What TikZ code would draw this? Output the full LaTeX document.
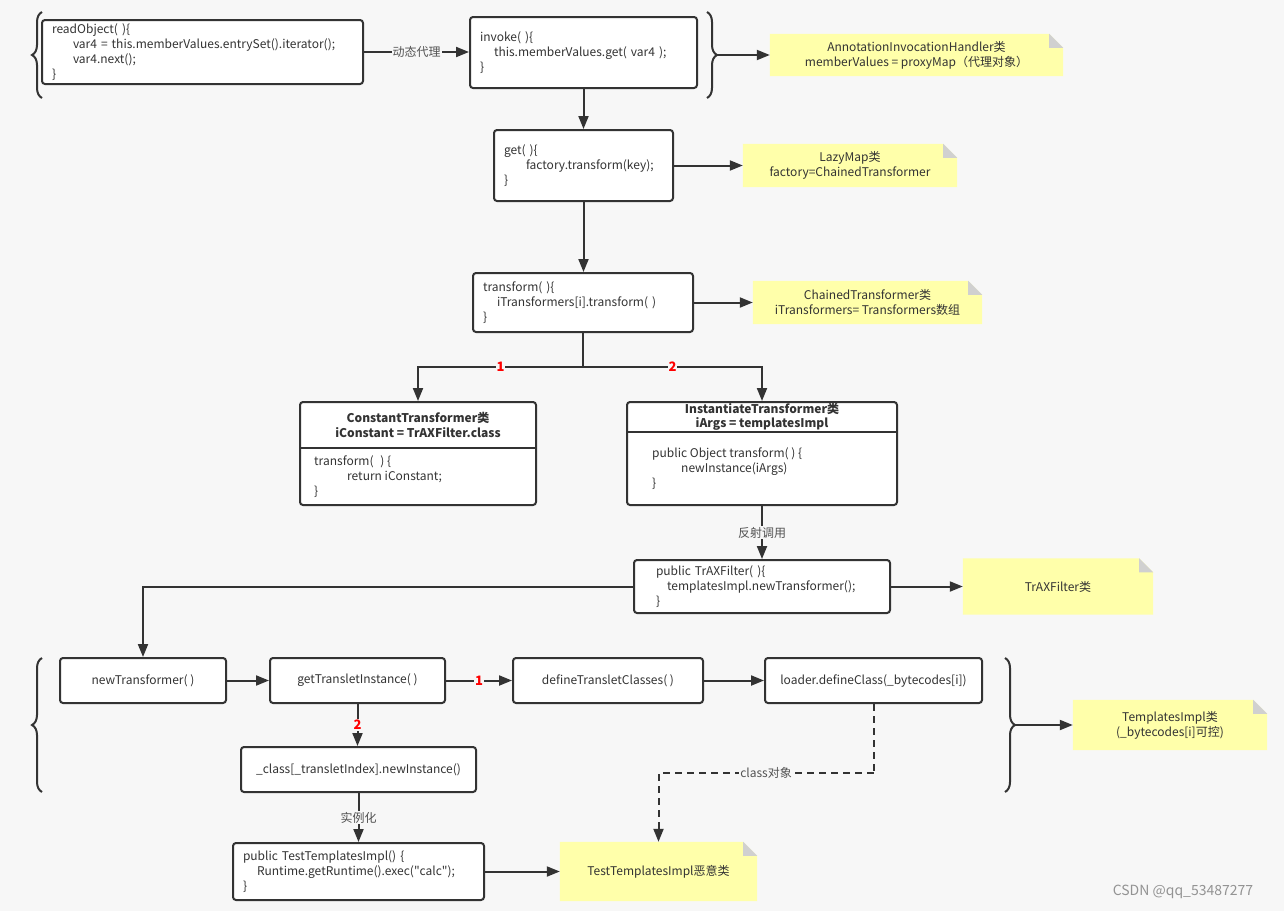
\documentclass[tikz,border=0pt]{standalone}
\usepackage{fontspec}
\setmainfont{Noto Sans CJK SC}
\newfontfamily\codefont{Noto Sans CJK SC}
\usetikzlibrary{arrows.meta,decorations.pathreplacing,backgrounds}
\definecolor{canvas}{HTML}{F7F7F7}
\definecolor{ink}{HTML}{333333}
\definecolor{notefill}{HTML}{FFFFAA}
\definecolor{foldgray}{HTML}{D0D0D0}

\begin{document}
\begin{tikzpicture}[x=1pt,y=-1pt,>={Triangle[length=13pt,width=10pt]},
    font=\fontsize{12}{15}\selectfont, text=ink,
    % Define the style for the boxes holding code
    code box/.style={draw=ink, line width=2pt, rounded corners=3pt, fill=white, align=left, inner xsep=10pt, inner ysep=0pt},
    call box/.style={code box, align=center, minimum height=45pt},
    % Yellow notes, the folded corner is filled on the background layer
    note box/.style={inner sep=0pt, align=center},
    % Define the style for the connecting lines
    connection/.style={->, draw=ink, line width=2pt},
    class link/.style={connection, dash pattern=on 7pt off 5pt},
    edge label/.style={fill=canvas, inner sep=1pt, text=ink!85},
    step label/.style={fill=canvas, inner sep=1pt, text=red, font=\fontsize{13}{13}\selectfont\bfseries},
    curly/.style={draw=ink, line width=2pt, decorate, decoration={brace, amplitude=10pt}}
]
\useasboundingbox (0,0) rectangle (1284,911);

% Size of the folded corner of a note
\def\fold{14pt}

% Top row: proxy call into the handler
\node[code box, text width=301pt, minimum height=64pt] (readobj) at (202.5,52)
    {readObject( )\{\\\hspace*{21pt}var4 = this.memberValues.entrySet().iterator();\\\hspace*{21pt}var4.next();\\\}};
\node[code box, text width=207pt, minimum height=71pt] (invoke) at (583.5,52.5)
    {invoke( )\{\\\hspace*{14pt}this.memberValues.get( var4 );\\\}};
\node[note box, minimum width=293pt, minimum height=42pt] (note-handler) at (916.5,55)
    {AnnotationInvocationHandler类\\memberValues = proxyMap（代理对象）};

% LazyMap and ChainedTransformer
\node[code box, text width=159pt, minimum height=71pt] (get) at (583.5,165.5)
    {get( )\{\\\hspace*{22pt}factory.transform(key);\\\}};
\node[note box, minimum width=214pt, minimum height=43pt] (note-lazymap) at (850,165.5)
    {LazyMap类\\factory=ChainedTransformer};
\node[code box, text width=200pt, minimum height=59pt] (transform) at (583,302.5)
    {transform( )\{\\\hspace*{14pt}iTransformers[i].transform( )\\\}};
\node[note box, minimum width=229pt, minimum height=43pt] (note-chained) at (867.5,302.5)
    {ChainedTransformer类\\iTransformers= Transformers数组};

% The two transformers, header and body split by a line
\node[code box, minimum width=236pt, minimum height=103pt] (const) at (418,453.5) {};
\node[align=center, inner sep=0pt, font=\fontsize{12}{15}\selectfont\bfseries] (const-head) at (418,425)
    {ConstantTransformer类\\iConstant = TrAXFilter.class};
\node[align=left, anchor=west, inner sep=0pt] (const-body) at (314,477)
    {transform(\hspace*{4pt} ) \{\\\hspace*{33pt}return iConstant;\\\}};
\coordinate (const-cut) at (418,448);
\draw[ink, line width=2pt] (const.west |- const-cut) -- (const.east |- const-cut);

\node[code box, minimum width=270pt, minimum height=103pt] (inst) at (762,453.5) {};
\node[align=center, inner sep=0pt, font=\fontsize{12}{14}\selectfont\bfseries] (inst-head) at (762,417)
    {InstantiateTransformer类\\iArgs = templatesImpl};
\node[align=left, anchor=west, inner sep=0pt] (inst-body) at (652,469)
    {public Object transform( ) \{\\\hspace*{29pt}newInstance(iArgs)\\\}};
\coordinate (inst-cut) at (762,432);
\draw[ink, line width=2pt] (inst.west |- inst-cut) -- (inst.east |- inst-cut);

% TrAXFilter constructor
\node[code box, inner xsep=22pt, text width=212pt, minimum height=53pt] (trax) at (762,586.5)
    {public TrAXFilter( )\{\\\hspace*{11pt}templatesImpl.newTransformer();\\\}};
\node[note box, minimum width=190pt, minimum height=56pt] (note-trax) at (1058,586.5) {TrAXFilter类};

% TemplatesImpl chain
\node[call box, minimum width=166pt] (newtr) at (143,680.5) {newTransformer( )};
\node[call box, minimum width=175pt] (gettrans) at (357.5,680.5) {getTransletInstance( )};
\node[call box, minimum width=190pt] (define) at (608,680.5) {defineTransletClasses( )};
\node[call box, minimum width=217pt] (loader) at (873.5,680.5) {loader.defineClass(\_bytecodes[i])};
\node[call box, minimum width=235pt] (cls) at (358.5,769.5) {\_class[\_transletIndex].newInstance()};
\node[note box, minimum width=194pt, minimum height=50pt] (note-templates) at (1170,725)
    {TemplatesImpl类\\(\_bytecodes[i]可控)};

% Evil class
\node[code box, inner xsep=10pt, text width=231pt, minimum height=57pt] (test) at (358.5,871.5)
    {public TestTemplatesImpl() \{\\\hspace*{14pt}Runtime.getRuntime().exec({\codefont"}calc{\codefont"});\\\}};
\node[note box, minimum width=197pt, minimum height=59pt] (note-evil) at (658.5,871.5) {TestTemplatesImpl恶意类};

\node[text=gray!85, font=\fontsize{14}{14}\selectfont] (watermark) at (1183,892) {CSDN @qq\_53487277};

% Braces round the grouped calls
\draw[curly] (42,98) -- (42,12);
\draw[curly] (707,12) -- (707,98);
\draw[curly] (42,792) -- (42,658);
\draw[curly] (1005,658) -- (1005,792);
\coordinate (brace-top-tip) at (717,55);
\coordinate (brace-low-tip) at (1015,725);

% Connect the boxes
\draw[connection] (readobj.east) -- node[edge label]{动态代理} (readobj.east -| invoke.west);
\draw[connection] (brace-top-tip) -- (note-handler.west);
\draw[connection] (invoke.south) -- (get.north);
\draw[connection] (get.east) -- (note-lazymap.west);
\draw[connection] (get.south) -- (get.south |- transform.north);
\draw[connection] (transform.east) -- (note-chained.west);

\coordinate (split) at (583,367);
\draw[connection, -] (transform.south) -- (split);
\draw[connection] (split) -| node[step label, pos=0.25]{1} (const.north);
\draw[connection] (split) -| node[step label, pos=0.25]{2} (inst.north);

\draw[connection] (inst.south) -- node[edge label]{反射调用} (trax.north);
\draw[connection] (trax.east) -- (note-trax.west);
\draw[connection] (trax.west) -| (newtr.north);

\draw[connection] (newtr) -- (gettrans);
\draw[connection] (gettrans) -- node[step label]{1} (define);
\draw[connection] (define) -- (loader);
\draw[connection] (brace-low-tip) -- (note-templates.west);
\draw[connection] (gettrans.south) -- node[step label]{2} (gettrans.south |- cls.north);
\draw[connection] (cls.south) -- node[edge label]{实例化} (test.north);
\draw[connection] (test.east) -- (note-evil.west);

\coordinate (class-bend) at (873.5,773);
\draw[class link, -] (loader.south) -- (class-bend);
\draw[class link] (class-bend) -| node[edge label, pos=0.25]{class对象} (note-evil.north);

% Canvas and yellow notes behind everything
\begin{scope}[on background layer]
  \fill[canvas] (0,0) rectangle (1284,911);
  \foreach \n in {note-handler,note-lazymap,note-chained,note-trax,note-templates,note-evil} {
    \fill[notefill] (\n.south west) -- (\n.north west) -- ([xshift=-\fold]\n.north east)
        -- ([yshift=-\fold]\n.north east) -- (\n.south east) -- cycle;
    \fill[foldgray] ([xshift=-\fold]\n.north east) -- ([xshift=-\fold,yshift=-\fold]\n.north east)
        -- ([yshift=-\fold]\n.north east) -- cycle;
  }
\end{scope}

\end{tikzpicture}
\end{document}
